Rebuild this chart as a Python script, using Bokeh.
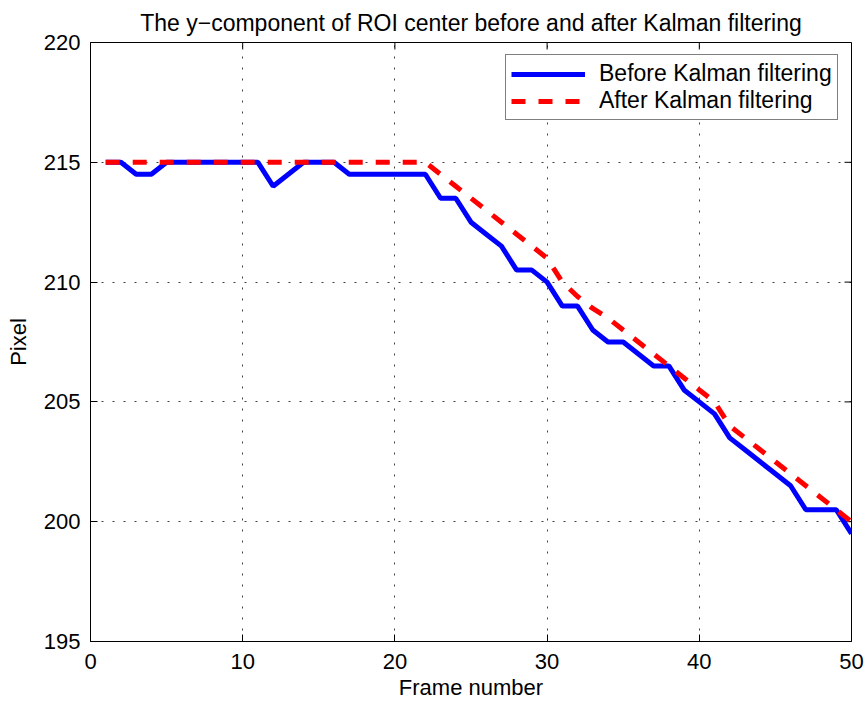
import math
from bokeh.plotting import figure
from bokeh.models import Range1d, FixedTicker, Legend, LegendItem
from bokeh.embed import file_html
from bokeh.resources import INLINE

# Frame index and y-component of the ROI centre (pixels)
frames = list(range(1, 51))
before_kalman = [215, 215, 214.5, 214.5, 215, 215, 215, 215, 215, 215,
                 215, 214, 214.5, 215, 215, 215, 214.5, 214.5, 214.5, 214.5,
                 214.5, 214.5, 213.5, 213.5, 212.5, 212, 211.5, 210.5, 210.5, 210,
                 209, 209, 208, 207.5, 207.5, 207, 206.5, 206.5, 205.5, 205,
                 204.5, 203.5, 203, 202.5, 202, 201.5, 200.5, 200.5, 200.5, 199.5]
after_kalman = [215, 215, 215, 215, 215, 215, 215, 215, 215, 215,
                215, 215, 215, 215, 215, 215, 215, 215, 215, 215,
                215, 215, 214.5, 214, 213.5, 213, 212.5, 212, 211.5, 211,
                210, 209.4, 208.9, 208.5, 208, 207.5, 207, 206.5, 206, 205.5,
                205, 204, 203.5, 203, 202.5, 202, 201.5, 201, 200.5, 200]

x_ticks = [0, 10, 20, 30, 40, 50]
y_ticks = [195, 200, 205, 210, 215, 220]
x_min, x_max = 0, 50
y_min, y_max = 195, 220

FONT = "Liberation Sans"
FS = "22px"
TICK_LEN = 7

p = figure(width=867, height=704,
           x_range=Range1d(x_min, x_max), y_range=Range1d(y_min, y_max),
           output_backend="svg", toolbar_location=None,
           min_border_left=90, min_border_right=16,
           min_border_top=41, min_border_bottom=63,
           title="The y\u2212component of ROI center before and after Kalman filtering")

p.title.align = "center"
p.title.text_font = FONT
p.title.text_font_size = "23px"
p.title.text_font_style = "normal"
p.title.text_color = "black"
p.title.standoff = 14

p.outline_line_color = "black"
p.outline_line_width = 1
p.background_fill_color = "white"
p.border_fill_color = "white"

for ax, ticks in ((p.xaxis[0], x_ticks), (p.yaxis[0], y_ticks)):
    ax.ticker = FixedTicker(ticks=ticks)
    ax.major_tick_in = TICK_LEN
    ax.major_tick_out = 0
    ax.minor_tick_line_color = None
    ax.axis_line_color = "black"
    ax.major_tick_line_color = "black"
    ax.major_label_text_font = FONT
    ax.major_label_text_font_size = FS
    ax.major_label_text_color = "black"
    ax.axis_label_text_font = FONT
    ax.axis_label_text_font_size = FS
    ax.axis_label_text_font_style = "normal"
    ax.axis_label_text_color = "black"

p.xaxis.axis_label = "Frame number"
p.yaxis.axis_label = "Pixel"
p.xaxis.major_label_standoff = 12
p.xaxis.axis_label_standoff = 3
p.yaxis.major_label_standoff = 10
p.yaxis.axis_label_standoff = 10

# Inward ticks mirrored on the top and right edges of the box
p.ray(x=x_ticks, y=[y_max] * len(x_ticks), length=TICK_LEN, length_units="screen",
      angle=-math.pi / 2, line_color="black", line_width=1)
p.ray(x=[x_max] * len(y_ticks), y=y_ticks, length=TICK_LEN, length_units="screen",
      angle=math.pi, line_color="black", line_width=1)

for g, ticks in ((p.xgrid[0], x_ticks), (p.ygrid[0], y_ticks)):
    g.ticker = FixedTicker(ticks=ticks)
    g.grid_line_color = "black"
    g.grid_line_alpha = 0.75
    g.grid_line_dash = "2 9"
    g.grid_line_width = 1

r_before = p.line(frames, before_kalman, line_color="#0000FF", line_width=5)
r_after = p.line(frames, after_kalman, line_color="#FF0000", line_width=5,
                 line_dash="14 13")

# Legend anchored by its bottom-left corner, in pixels from the frame's bottom-left
legend = Legend(items=[LegendItem(label="Before Kalman filtering", renderers=[r_before]),
                       LegendItem(label="After Kalman filtering", renderers=[r_after])],
                location=(415, 521))
legend.padding = 5
legend.spacing = 0
legend.glyph_width = 74
legend.glyph_height = 24
legend.label_height = 24
legend.label_standoff = 14
legend.label_text_font = FONT
legend.label_text_font_size = "23px"
legend.label_text_color = "black"
legend.border_line_color = "black"
legend.border_line_width = 1
legend.background_fill_color = "white"
legend.background_fill_alpha = 1
p.add_layout(legend, "center")

open("out.html", "w").write(file_html(p, INLINE))
